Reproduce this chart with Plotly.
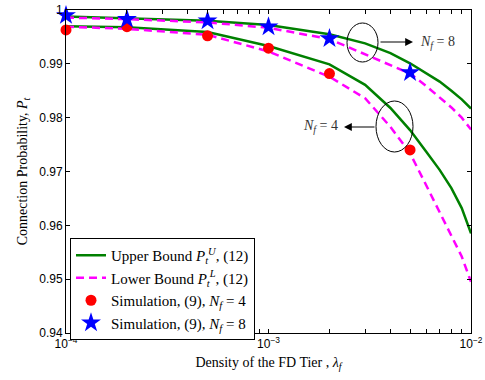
import plotly.graph_objects as go

# ---- data ----
lam_line = [1e-4, 2e-4, 5e-4, 1e-3, 2e-3, 3e-3, 4e-3, 5e-3, 6e-3, 7e-3, 8e-3, 9e-3, 1e-2]
upper_n4 = [0.9970, 0.9968, 0.9959, 0.9933, 0.9899, 0.9861, 0.9818, 0.9777, 0.9737, 0.9703, 0.9669, 0.9632, 0.9585]
lower_n4 = [0.9969, 0.9965, 0.9954, 0.9923, 0.9876, 0.9836, 0.9783, 0.9734, 0.9675, 0.9625, 0.9581, 0.9542, 0.9495]
upper_n8 = [0.9988, 0.9985, 0.9980, 0.9972, 0.9955, 0.9938, 0.9920, 0.9901, 0.9882, 0.9867, 0.9850, 0.9834, 0.9817]
lower_n8 = [0.9986, 0.9983, 0.9977, 0.9967, 0.9946, 0.9918, 0.9898, 0.9882, 0.9859, 0.9838, 0.9819, 0.9800, 0.9778]

lam_sim = [1e-4, 2e-4, 5e-4, 1e-3, 2e-3, 5e-3, 1e-2]
sim_n4 = [0.9963, 0.9969, 0.9952, 0.9929, 0.9882, 0.9740, 0.9500]
sim_n8 = [0.9990, 0.9983, 0.9980, 0.9969, 0.9947, 0.9884, 0.9785]

x_tickvals = [1e-4, 2e-4, 3e-4, 4e-4, 5e-4, 6e-4, 7e-4, 8e-4, 9e-4,
              1e-3, 2e-3, 3e-3, 4e-3, 5e-3, 6e-3, 7e-3, 8e-3, 9e-3, 1e-2]
x_ticktext = ["10<sup>−4</sup>", "", "", "", "", "", "", "", "",
              "10<sup>−3</sup>", "", "", "", "", "", "", "", "",
              "10<sup>−2</sup>"]

GREEN = "#008000"
MAGENTA = "#ff00ff"
SERIF = "Liberation Serif, Times New Roman, serif"
SANS = "Liberation Sans, Arial, sans-serif"

fig = go.Figure()
fig.add_trace(go.Scatter(x=lam_line, y=upper_n4, mode="lines",
                         line=dict(color=GREEN, width=2.5),
                         name="Upper Bound <i>P</i><sub><i>t</i></sub><sup><i>U</i></sup>, (12)"))
fig.add_trace(go.Scatter(x=lam_line, y=upper_n8, mode="lines",
                         line=dict(color=GREEN, width=2.5), showlegend=False))
fig.add_trace(go.Scatter(x=lam_line, y=lower_n4, mode="lines",
                         line=dict(color=MAGENTA, width=2.5, dash="8px,5px"),
                         name="Lower Bound <i>P</i><sub><i>t</i></sub><sup><i>L</i></sup>, (12)"))
fig.add_trace(go.Scatter(x=lam_line, y=lower_n8, mode="lines",
                         line=dict(color=MAGENTA, width=2.5, dash="8px,5px"), showlegend=False))
fig.add_trace(go.Scatter(x=lam_sim, y=sim_n4, mode="markers", cliponaxis=False,
                         marker=dict(symbol="circle", color="#ff0000", size=11, line=dict(width=0)),
                         name="Simulation, (9), <i>N</i><sub><i>f</i></sub> = 4"))
fig.add_trace(go.Scatter(x=lam_sim, y=sim_n8, mode="markers", cliponaxis=False,
                         marker=dict(symbol="star", color="#0000ff", size=15, line=dict(width=0)),
                         name="Simulation, (9), <i>N</i><sub><i>f</i></sub> = 8"))

axis_common = dict(showline=True, linecolor="black", linewidth=1, mirror="ticks",
                   ticks="inside", ticklen=4, tickcolor="black", showgrid=False,
                   zeroline=False, automargin=False,
                   tickfont=dict(family=SANS, size=12, color="black"))

fig.update_xaxes(type="log", range=[-4, -2], tickmode="array",
                 tickvals=x_tickvals, ticktext=x_ticktext,
                 title=dict(text="Density of the FD Tier , <i>λ</i><sub><i>f</i></sub>",
                            font=dict(family=SERIF, size=14, color="black"), standoff=6),
                 **axis_common)
fig.update_yaxes(range=[0.94, 1.0], dtick=0.01, tick0=0.94,
                 title=dict(text="Connection Probability, <i>P</i><sub><i>t</i></sub>",
                            font=dict(family=SERIF, size=14, color="black"), standoff=8),
                 **axis_common)

def px(xp):
    return (xp - 66) / 405.0

def py(yp):
    return (333 - yp) / 323.0

# ellipses
fig.add_shape(type="circle", xref="paper", yref="paper",
              x0=px(347), x1=px(378), y0=py(62), y1=py(23),
              line=dict(color="black", width=1))
fig.add_shape(type="circle", xref="paper", yref="paper",
              x0=px(376), x1=px(413), y0=py(152), y1=py(101),
              line=dict(color="black", width=1))

# arrows
fig.add_annotation(xref="paper", yref="paper", x=px(413), y=py(42), ax=-34, ay=0,
                   showarrow=True, arrowhead=2, arrowsize=1.3, arrowwidth=1.2,
                   arrowcolor="black", text="")
fig.add_annotation(xref="paper", yref="paper", x=px(344), y=py(127), ax=32, ay=0,
                   showarrow=True, arrowhead=2, arrowsize=1.3, arrowwidth=1.2,
                   arrowcolor="black", text="")
# labels
fig.add_annotation(xref="paper", yref="paper", x=px(418), y=py(42), xanchor="left",
                   yanchor="middle", showarrow=False,
                   text="<i>N</i><sub><i>f</i></sub> = 8",
                   font=dict(family=SERIF, size=14, color="#333333"))
fig.add_annotation(xref="paper", yref="paper", x=px(340), y=py(127), xanchor="right",
                   yanchor="middle", showarrow=False,
                   text="<i>N</i><sub><i>f</i></sub> = 4",
                   font=dict(family=SERIF, size=14, color="#333333"))

fig.update_layout(
    width=485, height=380,
    margin=dict(l=66, r=14, t=10, b=47, autoexpand=False),
    paper_bgcolor="white", plot_bgcolor="white",
    legend=dict(x=px(70), y=py(238), xanchor="left", yanchor="top",
                bgcolor="white", bordercolor="black", borderwidth=1,
                font=dict(family=SERIF, size=15, color="black"),
                tracegroupgap=0, itemwidth=30),
)

fig.write_html("out.html", config={"displayModeBar": False},
               post_script="document.body.style.margin='0';document.body.style.padding='0';")
